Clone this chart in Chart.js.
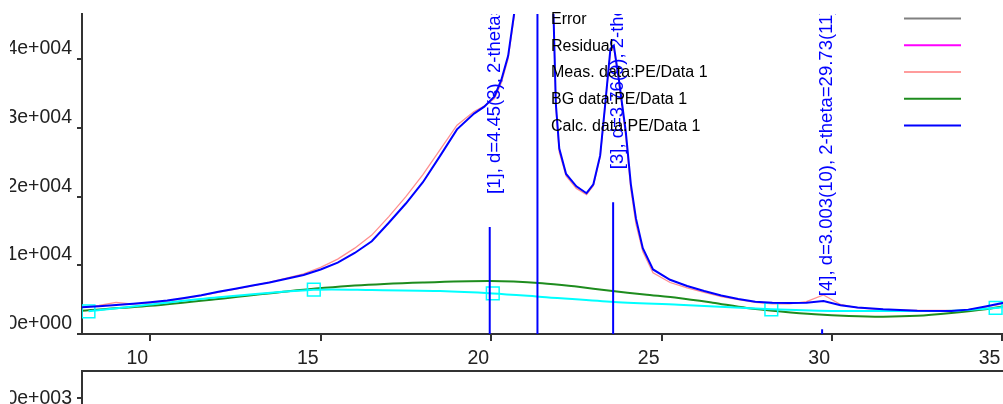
<!DOCTYPE html>
<html>
<head>
<meta charset="utf-8">
<script src="https://cdn.jsdelivr.net/npm/chart.js@4.4.1/dist/chart.umd.min.js"></script>
<style>
  html, body { margin: 0; padding: 0; background: #fff; overflow: hidden; width: 1003px; height: 404px; }
  #main { position: absolute; left: 10px; top: 0; }
  #lower { position: absolute; left: 10px; top: 360px; }
</style>
</head>
<body>
<canvas id="main" width="1020" height="368"></canvas>
<canvas id="lower" width="1020" height="120"></canvas>
<script>
// 2-theta positions shared by measured and calculated patterns
const twoTheta = [8.0, 8.5, 9.0, 9.5, 10.0, 10.5, 11.0, 11.5, 12.0, 12.5, 13.0, 13.5, 14.0, 14.5,
  15.0, 15.5, 16.0, 16.5, 17.0, 17.5, 18.0, 18.5, 19.0, 19.5, 19.8, 20.1, 20.3, 20.5, 20.7, 20.9,
  21.1, 21.3, 21.5, 21.7, 21.83, 21.9, 22.0, 22.2, 22.5, 22.8, 23.0, 23.2, 23.35, 23.5, 23.6,
  23.75, 23.95, 24.1, 24.25, 24.45, 24.75, 25.25, 25.75, 26.25, 26.75, 27.25, 27.75, 28.25,
  28.75, 29.25, 29.75, 30.25, 30.75, 31.5, 32.5, 33.5, 34.0, 34.5, 35.0, 35.5];
const measData = [3950, 4150, 4600, 4350, 4500, 4800, 5150, 5600, 6050, 6550, 7000, 7550, 8150, 8750,
  9700, 10900, 12500, 14400, 17100, 20000, 23200, 26800, 30400, 32400, 33200, 34300, 36600, 40100, 47000, 57500,
  74000, 89000, 81000, 59500, 46500, 33000, 26500, 23000, 21200, 20300, 21600, 25800, 33300, 41200, 41700,
  36500, 28800, 21000, 16000, 12000, 8900, 7500, 6700, 6050, 5450, 5000, 4600, 4400,
  4400, 4700, 5700, 4300, 3800, 3500, 3450, 3450, 3500, 3900, 4400, 4800];
const calcData = [3900, 4050, 4220, 4400, 4620, 4880, 5250, 5650, 6150, 6600, 7050, 7500, 8050, 8600,
  9400, 10400, 11800, 13500, 16200, 19000, 22100, 25900, 29800, 32100, 33100, 34600, 37000, 40500, 47500, 58000,
  75000, 90000, 82000, 60000, 46700, 33500, 27000, 23300, 21500, 20500, 21800, 26000, 33600, 41500, 42000,
  37000, 29500, 21800, 16800, 12500, 9400, 7900, 7000, 6250, 5600, 5100, 4700, 4550,
  4500, 4550, 4800, 4200, 3850, 3600, 3400, 3350, 3550, 4000, 4500, 4900];

// background (green)
const bgX = [8, 10, 12, 14, 16, 18, 20, 21.5, 22.5, 23.5, 24.5, 25.5, 26.5, 27.5, 28.5, 29.5,
  30.5, 31.5, 32.5, 33.5, 34.5, 35.5];
const bgData = [3390, 4100, 5100, 6200, 7050, 7500, 7720, 7400, 6900, 6300, 5750, 5250, 4560, 3800,
  3280, 2870, 2620, 2520, 2640, 3050, 3600, 4400];

// background anchor points (cyan)
const bgCurveX = [8.19, 10, 12, 14.8, 16.5, 18.5, 20.05, 21.5, 23.5, 25.5, 28.22, 30, 32, 33.5, 34.8, 35.5];
const bgCurveY = [3300, 4300, 5350, 6450, 6420, 6250, 5900, 5400, 4700, 4250, 3600, 3350, 3350, 3400, 3800, 4100];
const bgPointX = [8.19, 14.8, 20.05, 28.22, 34.8];
const bgPointY = [3300, 6450, 5900, 3600, 3800];

// peak markers
const peakPos = [19.96, 21.36, 23.58, 29.71];
const peakHeight = [15600, 60000, 19200, 700];
const peakLabels = ['[1], d=4.45(3), 2-theta=19.94(13)', '[2], d=4.157(2), 2-theta=21.36(1)',
  '[3], d=3.76(9), 2-theta=23.64(59)', '[4], d=3.003(10), 2-theta=29.73(11)'];

const xTicks = [10, 15, 20, 25, 30, 35];
const xTickLabels = ['10', '15', '20', '25', '30', '35'];
const yTicks = [0, 10000, 20000, 30000, 40000];
const yTickLabels = ['0e+000', '1e+004', '2e+004', '3e+004', '4e+004'];
const lowerTicks = [0, -2000];
const lowerTickLabels = ['0e+003', '-2e+003'];

const legendNames = ['Error', 'Residual', 'Meas. data:PE/Data 1', 'BG data:PE/Data 1', 'Calc. data:PE/Data 1'];
const legendColors = ['#808080', '#ff00ff', '#ff9c9c', '#1e8c1e', '#0000ff'];

const axisColor = '#333';
const labelFont = "19.5px 'Liberation Sans', Arial, sans-serif";

const pts = (xs, ys) => xs.map((x, i) => ({ x: x, y: ys[i] }));
const peakLines = [];
peakPos.forEach((p, i) => { peakLines.push({ x: p, y: 0 }, { x: p, y: peakHeight[i] }, { x: p, y: null }); });

const tickTextPlugin = {
  id: 'tickText',
  afterDraw(chart, args, opts) {
    const { ctx, scales } = chart;
    ctx.save();
    ctx.font = labelFont;
    ctx.fillStyle = '#222';
    ctx.textAlign = 'right';
    ctx.textBaseline = 'alphabetic';
    if (opts.x) {
      const s = scales.x;
      opts.x.values.forEach((v, i) => ctx.fillText(opts.x.labels[i], s.getPixelForValue(v) - 2, s.top + 30));
      // axis line runs a little past the y axis
      ctx.strokeStyle = axisColor;
      ctx.lineWidth = 2;
      ctx.beginPath();
      ctx.moveTo(s.left - 5, s.top);
      ctx.lineTo(s.left, s.top);
      ctx.stroke();
    }
    const sy = scales.y;
    opts.y.values.forEach((v, i) => ctx.fillText(opts.y.labels[i], sy.right - 10, sy.getPixelForValue(v) + opts.y.shift));
    ctx.restore();
  }
};

const peakLabelPlugin = {
  id: 'peakLabels',
  afterDatasetsDraw(chart) {
    const { ctx, chartArea: a, scales: { x, y } } = chart;
    ctx.save();
    ctx.beginPath();
    ctx.rect(a.left, a.top, a.right - a.left, a.bottom - a.top);
    ctx.clip();
    ctx.fillStyle = '#0000ff';
    ctx.font = "18.5px 'Liberation Sans', Arial, sans-serif";
    ctx.textAlign = 'left';
    ctx.textBaseline = 'middle';
    peakPos.forEach((p, i) => {
      const px = x.getPixelForValue(p);
      const top = y.getPixelForValue(peakHeight[i]);
      ctx.save();
      ctx.translate(px + 5, top - 33);
      ctx.rotate(-Math.PI / 2);
      ctx.fillText(peakLabels[i], 0, 0);
      ctx.restore();
    });
    ctx.restore();
  }
};

const legendPlugin = {
  id: 'sideLegend',
  afterDraw(chart) {
    const { ctx } = chart;
    ctx.save();
    ctx.font = "16px 'Liberation Sans', Arial, sans-serif";
    ctx.textBaseline = 'middle';
    ctx.fillStyle = '#000';
    legendNames.forEach((n, i) => {
      const yy = 18.5 + i * 26.75;
      ctx.fillText(n, 541, yy + 1);
      ctx.strokeStyle = legendColors[i];
      ctx.lineWidth = 2;
      ctx.beginPath();
      ctx.moveTo(894, yy);
      ctx.lineTo(951, yy);
      ctx.stroke();
    });
    ctx.restore();
  }
};

const panelTopPlugin = {
  id: 'panelTop',
  afterDraw(chart) {
    const { ctx, chartArea: a } = chart;
    ctx.save();
    ctx.strokeStyle = axisColor;
    ctx.lineWidth = 2;
    ctx.beginPath();
    ctx.moveTo(a.left - 1, a.top);
    ctx.lineTo(a.right, a.top);
    ctx.stroke();
    ctx.restore();
  }
};

new Chart(document.getElementById('main'), {
  type: 'line',
  data: {
    datasets: [
      { label: 'Calc', data: pts(twoTheta, calcData), borderColor: '#0000ff', borderWidth: 2, pointRadius: 0, order: 1 },
      { label: 'Peaks', data: peakLines, borderColor: '#0000ff', borderWidth: 2, pointRadius: 0, order: 2 },
      { label: 'BG points', data: pts(bgPointX, bgPointY), showLine: false, pointStyle: 'rect', pointRadius: 9,
        pointBorderColor: '#00ffff', pointBackgroundColor: 'rgba(0,0,0,0)', pointBorderWidth: 1.5, order: 3 },
      { label: 'BG curve', data: pts(bgCurveX, bgCurveY), borderColor: '#00ffff', borderWidth: 2, pointRadius: 0, tension: 0.3, order: 4 },
      { label: 'BG', data: pts(bgX, bgData), borderColor: '#1e8c1e', borderWidth: 2, pointRadius: 0, tension: 0.3, order: 5 },
      { label: 'Meas', data: pts(twoTheta, measData), borderColor: '#ff9090', borderWidth: 1.3, pointRadius: 0, order: 6 }
    ]
  },
  options: {
    responsive: false,
    animation: false,
    devicePixelRatio: 1,
    layout: { padding: { top: 14, right: 6, left: 0, bottom: 0 } },
    plugins: {
      legend: { display: false }, tooltip: { enabled: false },
      tickText: { x: { values: xTicks, labels: xTickLabels }, y: { values: yTicks, labels: yTickLabels, shift: -5 } }
    },
    scales: {
      x: {
        type: 'linear', min: 8, max: 35.5,
        afterBuildTicks: s => { s.ticks = xTicks.map(v => ({ value: v })); },
        afterFit: s => { s.height = 34; },
        ticks: { display: false },
        grid: { drawOnChartArea: false, drawTicks: true, tickLength: 7, color: axisColor, lineWidth: 2 },
        border: { display: true, color: axisColor, width: 2 }
      },
      y: {
        type: 'linear', min: 0, max: 46600,
        afterBuildTicks: s => { s.ticks = yTicks.map(v => ({ value: v })); },
        afterFit: s => { s.width = 72; },
        ticks: { display: false },
        grid: { drawOnChartArea: false, drawTicks: true, tickLength: 5, color: axisColor, lineWidth: 2 },
        border: { display: true, color: axisColor, width: 2 }
      }
    }
  },
  plugins: [peakLabelPlugin, legendPlugin, tickTextPlugin]
});

new Chart(document.getElementById('lower'), {
  type: 'line',
  data: { datasets: [] },
  options: {
    responsive: false,
    animation: false,
    devicePixelRatio: 1,
    layout: { padding: { top: 11, right: 6, left: 0, bottom: 0 } },
    plugins: {
      legend: { display: false }, tooltip: { enabled: false },
      tickText: { y: { values: lowerTicks, labels: lowerTickLabels, shift: 6 } }
    },
    scales: {
      x: { type: 'linear', min: 8, max: 35.5, display: false },
      y: {
        type: 'linear', min: -3000, max: 1000,
        afterBuildTicks: s => { s.ticks = lowerTicks.map(v => ({ value: v })); },
        afterFit: s => { s.width = 72; },
        ticks: { display: false },
        grid: { drawOnChartArea: false, drawTicks: true, tickLength: 5, color: axisColor, lineWidth: 2 },
        border: { display: true, color: axisColor, width: 2 }
      }
    }
  },
  plugins: [panelTopPlugin, tickTextPlugin]
});
</script>
</body>
</html>
